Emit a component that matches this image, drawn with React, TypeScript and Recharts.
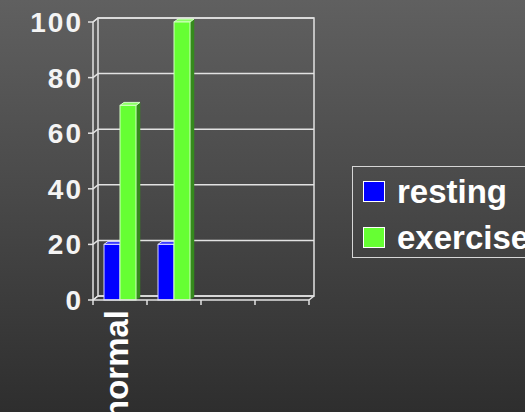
import React from 'react';
import { BarChart, Bar, XAxis, YAxis, CartesianGrid, Legend, ReferenceArea } from 'recharts';

const categoryIds = ['c1', 'c2', 'c3', 'c4'];
const categoryLabels = ['normal', '', '', ''];
const seriesNames = ['resting', 'exercise'];
const restingValues = [20, 20, null, null];
const exerciseValues = [70, 100, null, null];
const yTicks = [0, 20, 40, 60, 80, 100];

const data = categoryIds.map((id, i) => ({
  id,
  label: categoryLabels[i],
  resting: restingValues[i],
  exercise: exerciseValues[i],
}));

const W = 525;
const H = 412;
const DX = 5;
const DY = -4;
const BDX = 4;
const BDY = -3;
const FONT = '"Liberation Sans", Arial, Helvetica, sans-serif';
const LINE = '#e2e2e2';

const make3DBar = (front: string, side: string, top: string, edge: string) => (props: any) => {
  const { x, y, width, height } = props;
  if (!height || height <= 0) return <g />;
  return (
    <g>
      <polygon
        points={`${x + width},${y} ${x + width + BDX},${y + BDY} ${x + width + BDX},${y + height + BDY} ${x + width},${y + height}`}
        fill={side}
        stroke={side}
        strokeWidth={0.5}
      />
      <polygon
        points={`${x},${y} ${x + BDX},${y + BDY} ${x + width + BDX},${y + BDY} ${x + width},${y}`}
        fill={top}
        stroke={edge}
        strokeWidth={1}
      />
      <rect x={x} y={y} width={width} height={height} fill={front} stroke={edge} strokeWidth={1} />
    </g>
  );
};

const RestingBar = make3DBar('#0000ff', '#00007a', '#3a3aff', '#d8d8ff');
const ExerciseBar = make3DBar('#66ff33', '#358a1c', '#8cff66', '#d4ffc4');

const gridLine = (props: any) => {
  const { x1, y1, x2, index } = props;
  return (
    <g key={`g-${index}`}>
      <line x1={x1} y1={y1} x2={x1 + DX} y2={y1 + DY} stroke={LINE} strokeWidth={1.5} />
      <line x1={x1 + DX} y1={y1 + DY} x2={x2 + DX} y2={y1 + DY} stroke={LINE} strokeWidth={1.5} />
    </g>
  );
};

const Frame = (props: any) => {
  const { x, y, width, height } = props;
  const band = width / categoryIds.length;
  const ticks = [];
  for (let i = 0; i <= categoryIds.length; i++) {
    const tx = x + i * band;
    ticks.push(<line key={i} x1={tx} y1={y + height} x2={tx} y2={y + height + 5} stroke={LINE} strokeWidth={1.5} />);
  }
  return (
    <g>
      <rect x={x + DX} y={y + DY} width={width} height={height} fill="none" stroke={LINE} strokeWidth={1.5} />
      <line x1={x} y1={y} x2={x + DX} y2={y + DY} stroke={LINE} strokeWidth={1.5} />
      <line x1={x} y1={y + height} x2={x + DX} y2={y + height + DY} stroke={LINE} strokeWidth={1.5} />
      <line x1={x + width} y1={y + height} x2={x + width + DX} y2={y + height + DY} stroke={LINE} strokeWidth={1.5} />
      {ticks}
    </g>
  );
};

const XTick = (props: any) => {
  const { x, y, index } = props;
  const label = categoryLabels[index] ?? '';
  return (
    <text
      transform={`translate(${x + 8},${y + 2}) rotate(-90)`}
      textAnchor="end"
      fill="#ffffff"
      fontSize={33}
      fontWeight="bold"
      fontFamily={FONT}
    >
      {label}
    </text>
  );
};

const LegendBox = (props: any) => {
  const payload = [...(props.payload || [])].sort(
    (a: any, b: any) => seriesNames.indexOf(a.value) - seriesNames.indexOf(b.value)
  );
  return (
    <div
      style={{
        position: 'relative',
        width: 200,
        height: 92,
        border: '1px solid #d6d6d6',
        boxSizing: 'border-box',
      }}
    >
      {payload.map((p: any, i: number) => (
        <React.Fragment key={p.value}>
          <div
            style={{
              position: 'absolute',
              left: 10,
              top: 14 + i * 46,
              width: 20,
              height: 19,
              background: p.color,
              border: '1px solid #ffffff',
            }}
          />
          <div
            style={{
              position: 'absolute',
              left: 44,
              top: 8 + i * 46,
              lineHeight: '33px',
              fontSize: 33,
              fontWeight: 'bold',
              fontFamily: FONT,
              color: '#ffffff',
              whiteSpace: 'nowrap',
            }}
          >
            {p.value}
          </div>
        </React.Fragment>
      ))}
    </div>
  );
};

export default function App() {
  return (
    <div
      style={{
        position: 'fixed',
        left: 0,
        top: 0,
        width: W,
        height: H,
        overflow: 'hidden',
        background: 'linear-gradient(to bottom, #606060 0%, #4a4a4a 45%, #2e2e2e 100%)',
      }}
    >
      <BarChart
        width={W}
        height={H}
        data={data}
        margin={{ top: 22, right: 216, bottom: 12, left: 0 }}
        barGap={0}
        barSize={16}
      >
        <CartesianGrid horizontal={gridLine} vertical={false} />
        <ReferenceArea x1="c1" x2="c4" y1={0} y2={100} shape={Frame} ifOverflow="visible" />
        <XAxis
          dataKey="id"
          height={100}
          tickLine={false}
          axisLine={{ stroke: LINE, strokeWidth: 1.5 }}
          tick={<XTick />}
          interval={0}
        />
        <YAxis
          width={93}
          domain={[0, 100]}
          ticks={yTicks}
          tickSize={5}
          tickMargin={5}
          axisLine={{ stroke: LINE, strokeWidth: 1.5 }}
          tickLine={{ stroke: LINE, strokeWidth: 1.5 }}
          tick={{ fill: '#f4f4f4', fontSize: 28, fontWeight: 'bold', fontFamily: FONT, letterSpacing: 2 }}
        />
        <Legend
          layout="horizontal"
          verticalAlign="middle"
          align="center"
          itemSorter={null}
          content={<LegendBox />}
          wrapperStyle={{ position: 'absolute', left: 352, top: 166, width: 200, height: 92 }}
        />
        <Bar dataKey="resting" name="resting" fill="#0000ff" shape={RestingBar} isAnimationActive={false} />
        <Bar dataKey="exercise" name="exercise" fill="#66ff33" shape={ExerciseBar} isAnimationActive={false} />
      </BarChart>
    </div>
  );
}
